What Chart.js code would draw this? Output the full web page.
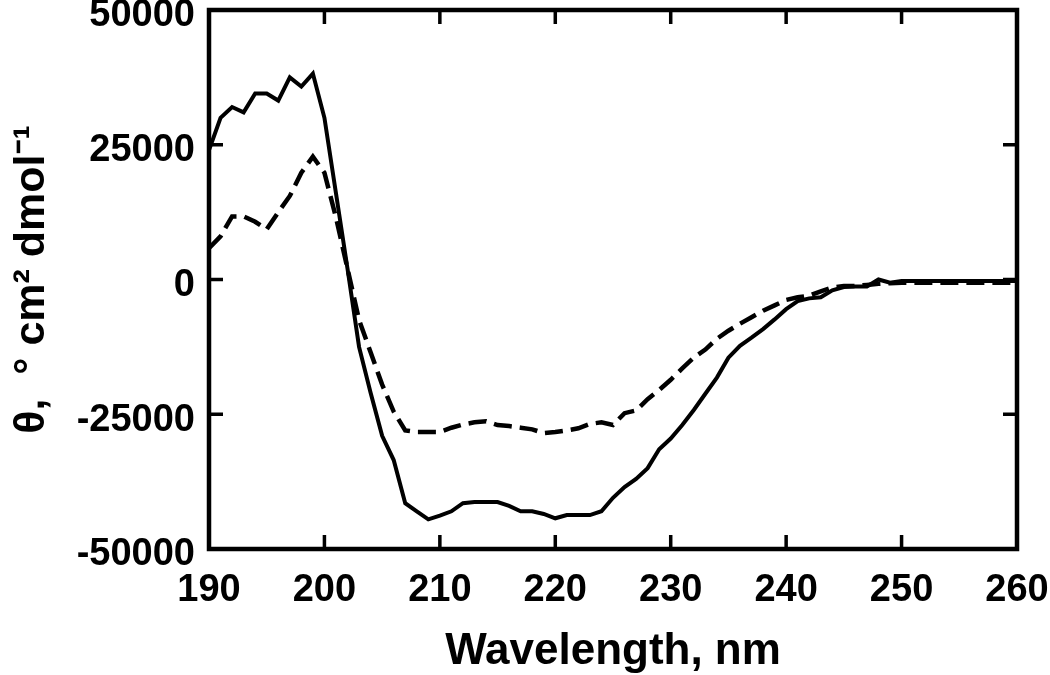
<!DOCTYPE html>
<html>
<head>
<meta charset="utf-8">
<script src="https://cdn.jsdelivr.net/npm/chart.js@4.4.1/dist/chart.umd.min.js"></script>
<style>
  html, body { margin: 0; padding: 0; background: #fff; }
  canvas { display: block; }
</style>
</head>
<body>
<canvas id="cdChart" width="1050" height="675"></canvas>
<script>
// CD spectra, one value per nm from 190 to 260
const wavelengths = [
  190, 191, 192, 193, 194, 195, 196, 197, 198, 199,
  200, 201, 202, 203, 204, 205, 206, 207, 208, 209,
  210, 211, 212, 213, 214, 215, 216, 217, 218, 219,
  220, 221, 222, 223, 224, 225, 226, 227, 228, 229,
  230, 231, 232, 233, 234, 235, 236, 237, 238, 239,
  240, 241, 242, 243, 244, 245, 246, 247, 248, 249,
  250, 251, 252, 253, 254, 255, 256, 257, 258, 259, 260
];
const solidTheta = [
  24000, 30000, 32000, 31000, 34500, 34500, 33200, 37500, 35800, 38200,
  30000, 16000, 2000, -12500, -21000, -29000, -33500, -41500, -43000, -44500,
  -43800, -43000, -41500, -41300, -41300, -41300, -42000, -43000, -43000, -43500,
  -44300, -43700, -43700, -43700, -43000, -40500, -38500, -37000, -35000, -31500,
  -29500, -27000, -24200, -21200, -18200, -14500, -12300, -10800, -9200, -7400,
  -5500, -4000, -3500, -3300, -2000, -1400, -1300, -1300, 0, -600,
  -300, -300, -300, -300, -300, -300, -300, -300, -300, -300, -300
];
const dashedTheta = [
  5800, 8000, 11700, 11700, 10700, 9300, 12500, 15500, 19800, 22800,
  19800, 11500, 2000, -7500, -13500, -19500, -24500, -28000, -28300, -28300,
  -28300, -27500, -26900, -26500, -26300, -27000, -27200, -27500, -27800, -28500,
  -28300, -28000, -27600, -26800, -26500, -27000, -24800, -24300, -22200, -20500,
  -18600, -16500, -14500, -13000, -11000, -9500, -8200, -7000, -5800, -4800,
  -3800, -3300, -3000, -2200, -1500, -1200, -1200, -1000, -800, -700,
  -600, -600, -600, -600, -600, -600, -600, -600, -600, -600, -600
];
const xInnerTicks = [200, 210, 220, 230, 240, 250];
const yInnerTicks = [25000, 0, -25000];

const FONT = "'Liberation Sans', Arial, sans-serif";

const toPoints = (vals) => wavelengths.map((w, i) => ({ x: w, y: vals[i] }));

// box frame + inward ticks on all four sides
const framePlugin = {
  id: 'frame',
  afterDatasetsDraw(chart) {
    const { ctx, chartArea: a, scales: { x, y } } = chart;
    const len = 14;
    ctx.save();
    ctx.strokeStyle = '#000';
    ctx.lineWidth = 3.5;
    ctx.beginPath();
    xInnerTicks.forEach(v => {
      const px = x.getPixelForValue(v);
      ctx.moveTo(px, a.top); ctx.lineTo(px, a.top + len);
      ctx.moveTo(px, a.bottom); ctx.lineTo(px, a.bottom - len);
    });
    yInnerTicks.forEach(v => {
      const py = y.getPixelForValue(v);
      ctx.moveTo(a.left, py); ctx.lineTo(a.left + len, py);
      ctx.moveTo(a.right, py); ctx.lineTo(a.right - len, py);
    });
    ctx.stroke();
    ctx.lineWidth = 4.5;
    ctx.strokeRect(a.left, a.top, a.right - a.left, a.bottom - a.top);
    ctx.restore();
  }
};

new Chart(document.getElementById('cdChart'), {
  type: 'line',
  data: {
    datasets: [
      {
        label: 'solid',
        data: toPoints(solidTheta),
        borderColor: '#000',
        borderWidth: 4,
        pointRadius: 0,
        tension: 0
      },
      {
        label: 'dashed',
        data: toPoints(dashedTheta),
        borderColor: '#000',
        borderWidth: 4.5,
        borderDash: [18, 8],
        pointRadius: 0,
        tension: 0
      }
    ]
  },
  options: {
    responsive: false,
    animation: false,
    devicePixelRatio: 1,
    layout: { padding: { top: 10, right: 33, left: 0, bottom: 0 } },
    plugins: { legend: { display: false }, tooltip: { enabled: false } },
    scales: {
      x: {
        type: 'linear',
        min: 190,
        max: 260,
        grid: { display: false, drawTicks: false },
        border: { display: false },
        ticks: {
          stepSize: 10,
          padding: 19,
          color: '#000',
          font: { family: FONT, size: 38, weight: 'bold' },
          callback: v => String(v)
        },
        title: {
          display: true,
          text: 'Wavelength, nm',
          color: '#000',
          font: { family: FONT, size: 44, weight: 'bold' },
          padding: { top: 0, bottom: -3 }
        },
        afterFit: s => { s.height = 126; s.paddingLeft = 0; s.paddingRight = 0; }
      },
      y: {
        min: -50000,
        max: 50000,
        grid: { display: false, drawTicks: false },
        border: { display: false },
        ticks: {
          stepSize: 25000,
          padding: 14,
          labelOffset: 6,
          color: '#000',
          font: { family: FONT, size: 38, weight: 'bold' },
          callback: v => String(v)
        },
        title: {
          display: true,
          text: '\u03b8,  \u00b0 cm\u00b2 dmol\u207b\u00b9',
          color: '#000',
          font: { family: FONT, size: 43, weight: 'bold' },
          padding: { top: 6, bottom: 0 }
        },
        afterFit: s => { s.width = 209; s.paddingTop = 0; s.paddingBottom = 0; }
      }
    }
  },
  plugins: [framePlugin]
});
</script>
</body>
</html>
